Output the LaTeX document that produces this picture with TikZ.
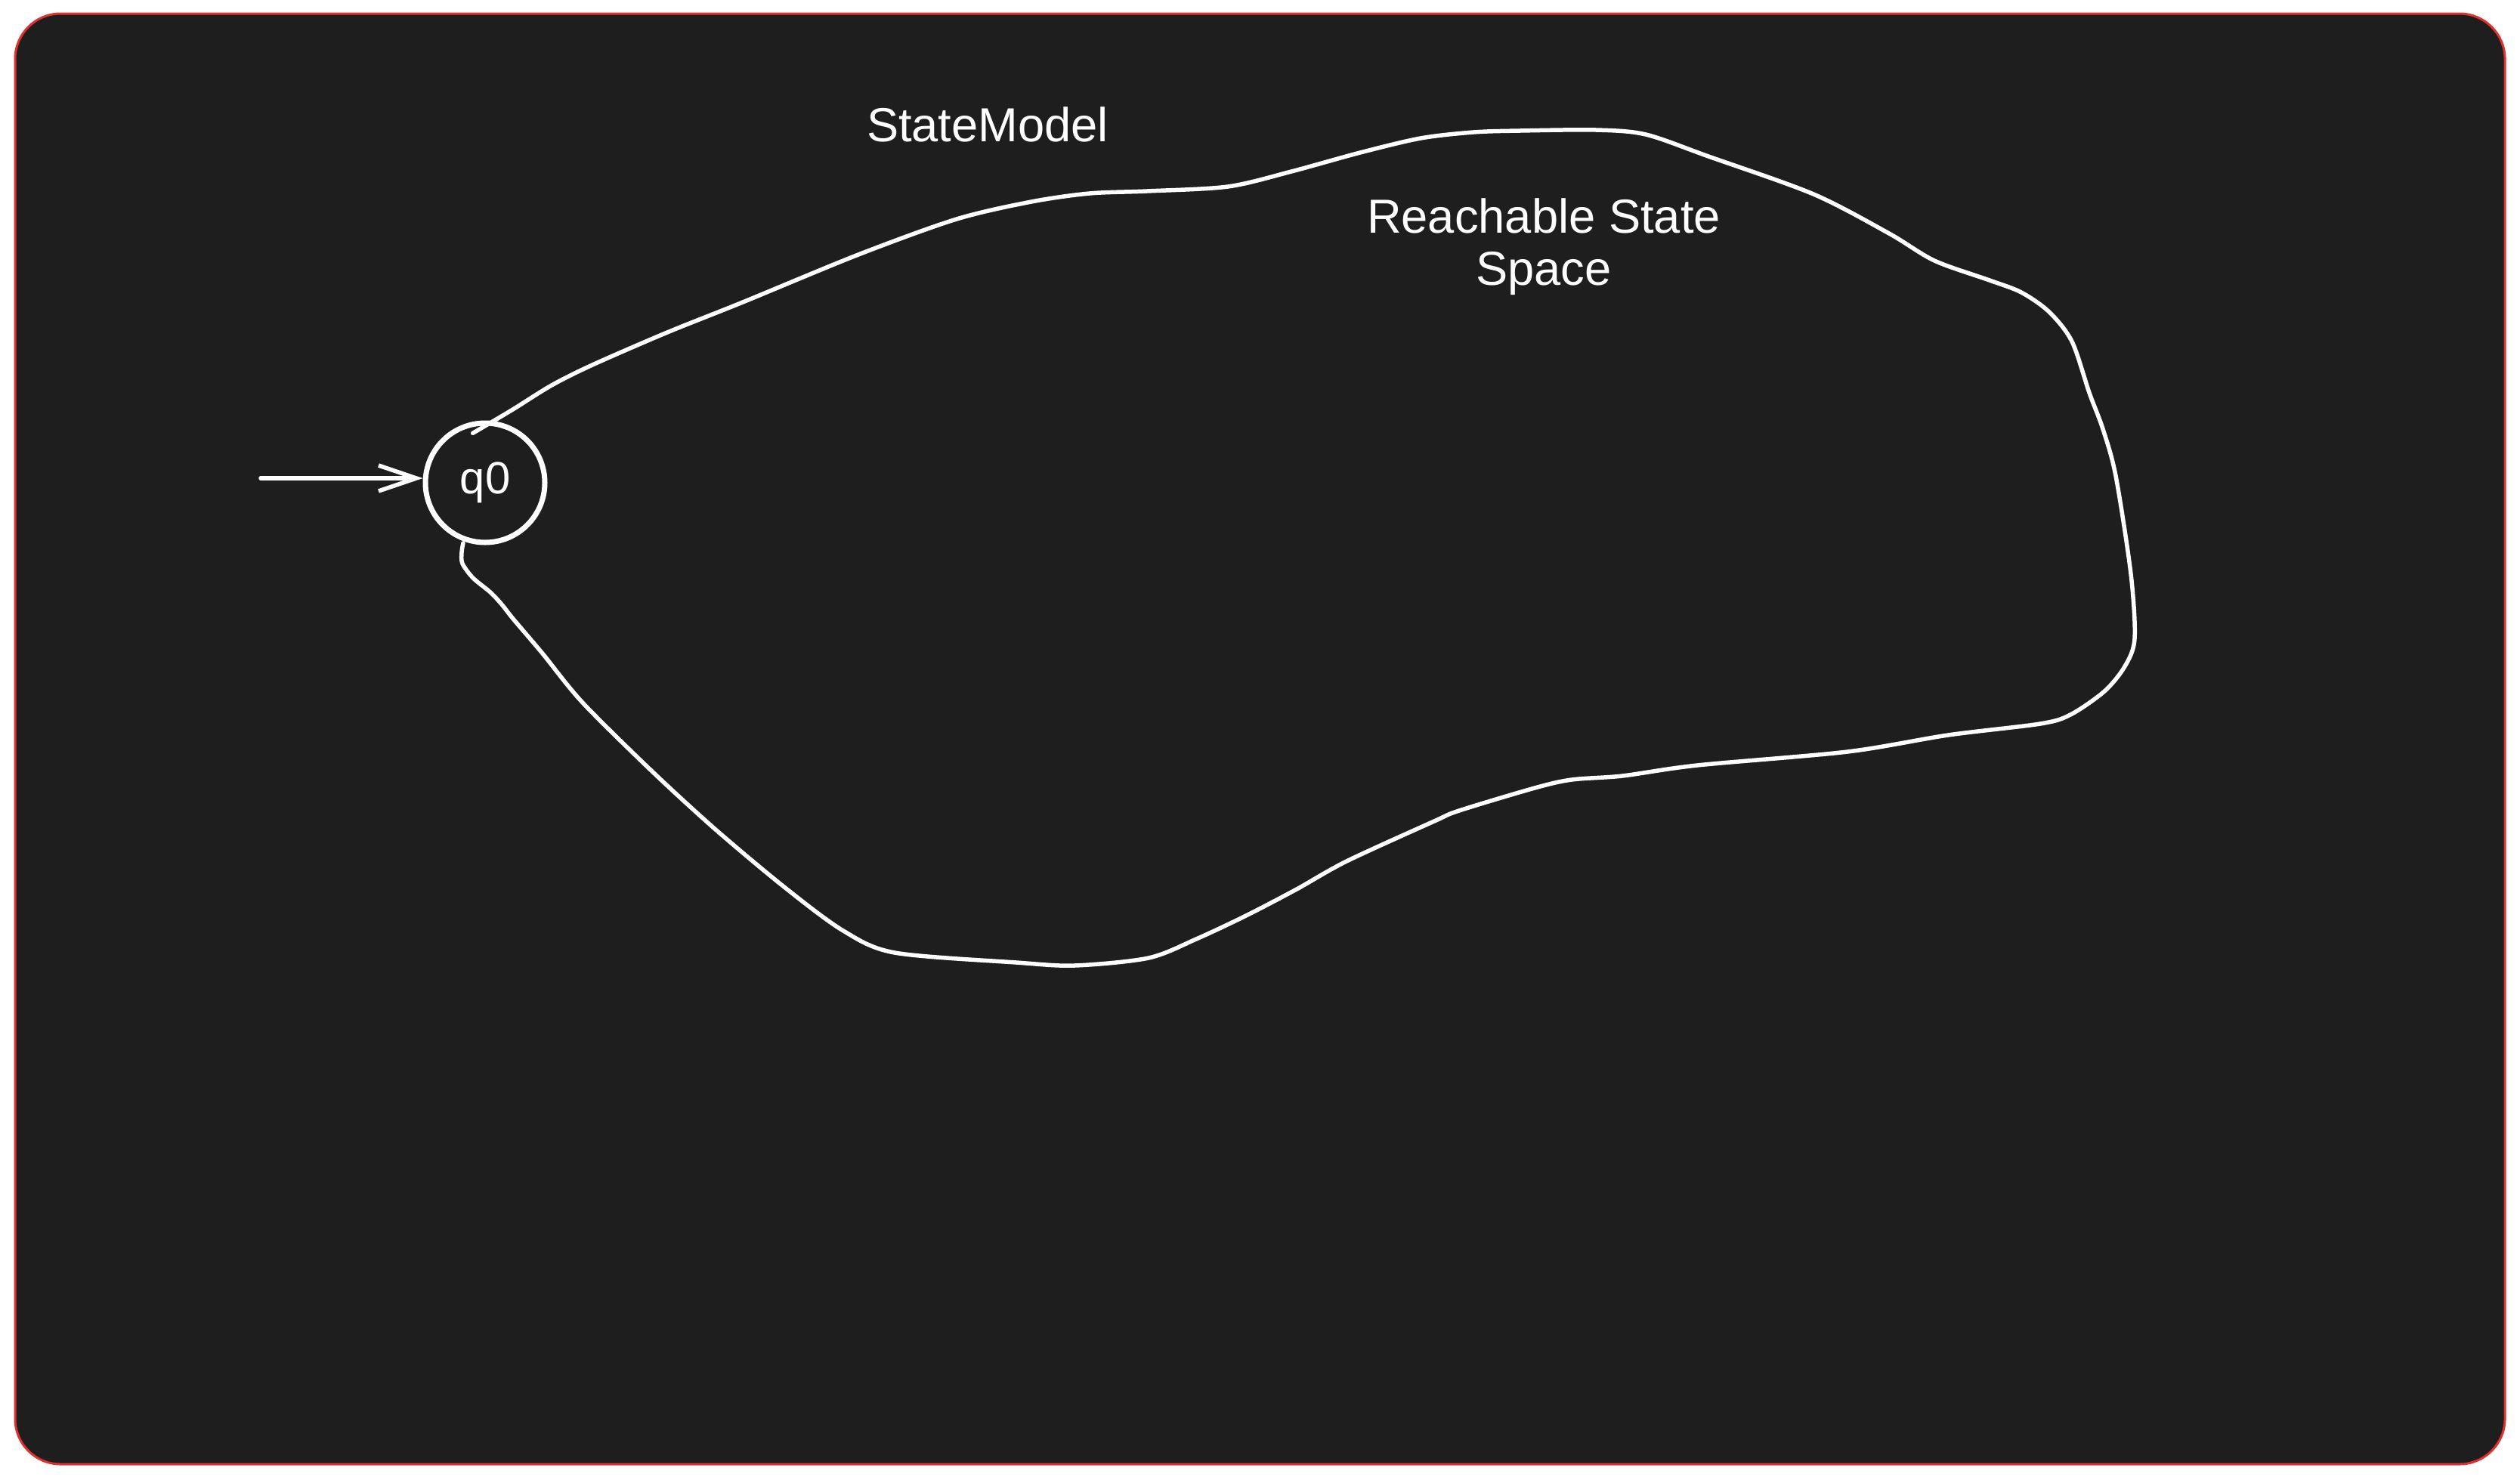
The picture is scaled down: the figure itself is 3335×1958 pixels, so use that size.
\documentclass[tikz,border=0pt]{standalone}
\usepackage{fontspec}
\setmainfont{Liberation Sans}
\usetikzlibrary{arrows.meta,calc}
\definecolor{canvas}{HTML}{1E1E1E}
\definecolor{framered}{HTML}{E03131}
\begin{document}
\begin{tikzpicture}[x=0.1mm,y=-0.1mm,
  lbl/.style={text=white,font=\fontsize{18}{19.6}\selectfont,inner sep=0pt},
  state/.style={circle,draw=white,line width=0.7mm,minimum size=15.8mm,inner sep=0pt,text=white,font=\fontsize{17}{20}\selectfont},
  edge/.style={draw=white,line width=0.55mm,line cap=round,line join=round},
  entry/.style={edge,-{Straight Barb[length=5mm,width=3.4mm]}},
]
\useasboundingbox (0,0) rectangle (3335,1958);
\fill[white] (0,0) rectangle (3335,1958);
\draw[fill=canvas,draw=framered,line width=0.3mm,rounded corners=6mm] (20,18) rectangle (3315,1938);

\node[lbl,anchor=base] (title) at (1307,187) {StateModel};
\node[lbl,anchor=base,align=center] (space) at (2043,377) {Reachable State\\Space};

\node[state] (q0) at (642,639) {q0};
\coordinate (src) at (345,633);
\draw[entry] (src) -- (src -| q0.west);

\draw[edge] plot[smooth,tension=0.5] coordinates {
 ($(q0.center)!0.82!(q0.104)$)
 (677,543) (730,510) (784,483) (883,440) (983,400) (1136,337) (1266,290)
 (1365,267) (1442,256) (1518,253) (1625,247) (1709,227) (1800,202)
 (1880,183) (1950,175) (2012,173) (2112,172) (2178,178) (2261,207)
 (2400,257) (2500,309) (2560,345) (2633,371) (2675,387) (2712,413)
 (2742,452) (2765,520) (2783,568) (2800,630) (2820,760) (2825,845)
 (2812,882) (2785,915) (2740,946) (2700,958) (2578,973) (2445,995)
 (2246,1013) (2147,1027) (2080,1032) (2031,1043) (1931,1073) (1898,1087)
 (1782,1140) (1716,1177) (1649,1212) (1583,1243) (1520,1268)
 (1422,1278) (1345,1274) (1184,1261) (1116,1232) (1039,1175) (947,1098)
 (863,1021) (771,930) (718,865) (679,819) (664,800) (649,784)
 (626,765) (612,746) (611,731)
 ($(q0.center)!1.03!(q0.250)$)
};
\end{tikzpicture}
\end{document}
